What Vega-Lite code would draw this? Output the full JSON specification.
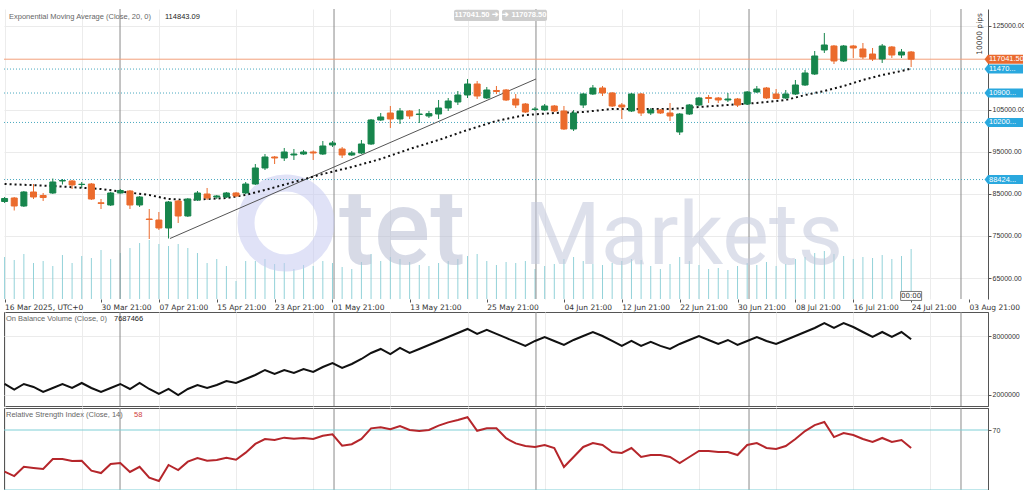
{
"$schema":"https://vega.github.io/schema/vega-lite/v6.json",
"padding":{"left":0,"top":8,"right":0,"bottom":0},
"background":"white",
"spacing":0,
"config":{"axis":{"labelOverlap":false},"scale":{"continuousPadding":0}},
"datasets":{
"bars":[
{"i":0,"o":83204,"h":84274,"l":82847,"c":83917,"v":42000,"obv":3108000,"rsi":42.2},
{"i":1,"o":84036,"h":84274,"l":81064,"c":82134,"v":39000,"obv":2523000,"rsi":39.3},
{"i":2,"o":82134,"h":85701,"l":81896,"c":85463,"v":45000,"obv":3108000,"rsi":45.5},
{"i":3,"o":85463,"h":87365,"l":83798,"c":84274,"v":36000,"obv":2800000,"rsi":44.7},
{"i":4,"o":84631,"h":85225,"l":83323,"c":84150,"v":38000,"obv":2287000,"rsi":44.0},
{"i":5,"o":85225,"h":88673,"l":84987,"c":87841,"v":33000,"obv":2697000,"rsi":50.7},
{"i":6,"o":88079,"h":88554,"l":87246,"c":88198,"v":44000,"obv":3108000,"rsi":50.7},
{"i":7,"o":88079,"h":88317,"l":86176,"c":87128,"v":36000,"obv":2697000,"rsi":49.3},
{"i":8,"o":87250,"h":87841,"l":86414,"c":87300,"v":43000,"obv":3210000,"rsi":49.5},
{"i":9,"o":87365,"h":87603,"l":83561,"c":83798,"v":41000,"obv":2697000,"rsi":42.9},
{"i":10,"o":82900,"h":83798,"l":81420,"c":82750,"v":49000,"obv":2287000,"rsi":41.3},
{"i":11,"o":82372,"h":85463,"l":82134,"c":85225,"v":40000,"obv":2697000,"rsi":47.3},
{"i":12,"o":85225,"h":86176,"l":85106,"c":85820,"v":46000,"obv":3108000,"rsi":48.0},
{"i":13,"o":85701,"h":85939,"l":81420,"c":82372,"v":51000,"obv":2595000,"rsi":42.0},
{"i":14,"o":82372,"h":84512,"l":81896,"c":84274,"v":56000,"obv":3210000,"rsi":45.5},
{"i":15,"o":79042,"h":81420,"l":74286,"c":78923,"v":59000,"obv":2595000,"rsi":38.2},
{"i":16,"o":78805,"h":80707,"l":76427,"c":76902,"v":55000,"obv":2082000,"rsi":36.0},
{"i":17,"o":76902,"h":83323,"l":74405,"c":83085,"v":53000,"obv":2595000,"rsi":46.7},
{"i":18,"o":83323,"h":83561,"l":78091,"c":79756,"v":55000,"obv":1980000,"rsi":43.3},
{"i":19,"o":79756,"h":84036,"l":79518,"c":83798,"v":51000,"obv":2595000,"rsi":48.9},
{"i":20,"o":83561,"h":85701,"l":83323,"c":85225,"v":46000,"obv":3005000,"rsi":51.3},
{"i":21,"o":84987,"h":86414,"l":83561,"c":84036,"v":36000,"obv":2697000,"rsi":49.5},
{"i":22,"o":84274,"h":84750,"l":83798,"c":84512,"v":40000,"obv":3005000,"rsi":50.0},
{"i":23,"o":84274,"h":85463,"l":84036,"c":85225,"v":33000,"obv":3415000,"rsi":51.5},
{"i":24,"o":85225,"h":85463,"l":84274,"c":84512,"v":18000,"obv":3210000,"rsi":50.2},
{"i":25,"o":85225,"h":87841,"l":84987,"c":87365,"v":38000,"obv":3621000,"rsi":54.9},
{"i":26,"o":87365,"h":92121,"l":87128,"c":91170,"v":38000,"obv":4031000,"rsi":60.7},
{"i":27,"o":91170,"h":94499,"l":90694,"c":93786,"v":40000,"obv":4544000,"rsi":64.0},
{"i":28,"o":93786,"h":94024,"l":92121,"c":93548,"v":35000,"obv":4133000,"rsi":63.3},
{"i":29,"o":93548,"h":95927,"l":92835,"c":94975,"v":36000,"obv":4544000,"rsi":64.9},
{"i":30,"o":94262,"h":95689,"l":93073,"c":94499,"v":30000,"obv":4236000,"rsi":64.2},
{"i":31,"o":94499,"h":95451,"l":94262,"c":94975,"v":34000,"obv":4646000,"rsi":64.7},
{"i":32,"o":94975,"h":95332,"l":93073,"c":94737,"v":33000,"obv":4340000,"rsi":64.0},
{"i":33,"o":94499,"h":97591,"l":94262,"c":96402,"v":38000,"obv":4850000,"rsi":66.2},
{"i":34,"o":96640,"h":97591,"l":96164,"c":97115,"v":36000,"obv":5260000,"rsi":67.1},
{"i":35,"o":95689,"h":96164,"l":93548,"c":94262,"v":32000,"obv":4750000,"rsi":59.5},
{"i":36,"o":94262,"h":95213,"l":94024,"c":94737,"v":30000,"obv":5160000,"rsi":60.5},
{"i":37,"o":94737,"h":97829,"l":94499,"c":96878,"v":37000,"obv":5670000,"rsi":64.0},
{"i":38,"o":96878,"h":102823,"l":96640,"c":102585,"v":45000,"obv":6290000,"rsi":71.1},
{"i":39,"o":102585,"h":104249,"l":102347,"c":103298,"v":38000,"obv":6700000,"rsi":71.8},
{"i":40,"o":104249,"h":105914,"l":100682,"c":102823,"v":42000,"obv":6180000,"rsi":70.5},
{"i":41,"o":102823,"h":105438,"l":101635,"c":104725,"v":40000,"obv":6800000,"rsi":72.7},
{"i":42,"o":104725,"h":104963,"l":102823,"c":103536,"v":37000,"obv":6290000,"rsi":70.0},
{"i":43,"o":103892,"h":105200,"l":101871,"c":104011,"v":34000,"obv":6700000,"rsi":69.3},
{"i":44,"o":103536,"h":104725,"l":103060,"c":104100,"v":33000,"obv":7110000,"rsi":70.0},
{"i":45,"o":104011,"h":107341,"l":102823,"c":105438,"v":36000,"obv":7520000,"rsi":72.9},
{"i":46,"o":105438,"h":107817,"l":104725,"c":107103,"v":38000,"obv":7930000,"rsi":75.1},
{"i":47,"o":106865,"h":109481,"l":106152,"c":108530,"v":40000,"obv":8340000,"rsi":76.7},
{"i":48,"o":108530,"h":112335,"l":107817,"c":111147,"v":43000,"obv":8750000,"rsi":78.5},
{"i":49,"o":111147,"h":111859,"l":107579,"c":108292,"v":45000,"obv":8240000,"rsi":69.5},
{"i":50,"o":107817,"h":110433,"l":107579,"c":109719,"v":38000,"obv":8650000,"rsi":71.1},
{"i":51,"o":109600,"h":110670,"l":108767,"c":109362,"v":34000,"obv":8240000,"rsi":71.1},
{"i":52,"o":109719,"h":109956,"l":107103,"c":107341,"v":37000,"obv":7830000,"rsi":64.5},
{"i":53,"o":107579,"h":108767,"l":105438,"c":106152,"v":36000,"obv":7420000,"rsi":61.1},
{"i":54,"o":106389,"h":106627,"l":104249,"c":104487,"v":38000,"obv":7010000,"rsi":59.3},
{"i":55,"o":105082,"h":105676,"l":104725,"c":105200,"v":30000,"obv":7520000,"rsi":58.7},
{"i":56,"o":104963,"h":106389,"l":104725,"c":105914,"v":33000,"obv":7930000,"rsi":60.0},
{"i":57,"o":105914,"h":106152,"l":104487,"c":104725,"v":35000,"obv":7520000,"rsi":58.0},
{"i":58,"o":104725,"h":105914,"l":100207,"c":100445,"v":40000,"obv":7110000,"rsi":45.3},
{"i":59,"o":100445,"h":104963,"l":99969,"c":104249,"v":42000,"obv":7620000,"rsi":52.0},
{"i":60,"o":106152,"h":109005,"l":105438,"c":108767,"v":38000,"obv":8030000,"rsi":58.7},
{"i":61,"o":108767,"h":110908,"l":108530,"c":110194,"v":35000,"obv":8440000,"rsi":61.3},
{"i":62,"o":110194,"h":110670,"l":108292,"c":109005,"v":34000,"obv":8030000,"rsi":60.0},
{"i":63,"o":109005,"h":109243,"l":105676,"c":105914,"v":36000,"obv":7520000,"rsi":55.3},
{"i":64,"o":106152,"h":106627,"l":102823,"c":105676,"v":38000,"obv":7010000,"rsi":54.7},
{"i":65,"o":104725,"h":109005,"l":104487,"c":108767,"v":40000,"obv":7520000,"rsi":58.0},
{"i":66,"o":108767,"h":109005,"l":103536,"c":104249,"v":39000,"obv":7010000,"rsi":52.0},
{"i":67,"o":104249,"h":105438,"l":103774,"c":104963,"v":33000,"obv":7420000,"rsi":53.3},
{"i":68,"o":104963,"h":105200,"l":104011,"c":104249,"v":30000,"obv":7010000,"rsi":53.3},
{"i":69,"o":104249,"h":106627,"l":102347,"c":103536,"v":35000,"obv":6700000,"rsi":52.0},
{"i":70,"o":99731,"h":104249,"l":99018,"c":104011,"v":42000,"obv":7210000,"rsi":48.0},
{"i":71,"o":104011,"h":106389,"l":103774,"c":106152,"v":38000,"obv":7620000,"rsi":52.0},
{"i":72,"o":106152,"h":108054,"l":105914,"c":107817,"v":34000,"obv":8030000,"rsi":56.0},
{"i":73,"o":107936,"h":108530,"l":106627,"c":107698,"v":30000,"obv":7620000,"rsi":56.0},
{"i":74,"o":107817,"h":108054,"l":106627,"c":107341,"v":31000,"obv":7210000,"rsi":55.3},
{"i":75,"o":107341,"h":109005,"l":106865,"c":107579,"v":29000,"obv":7620000,"rsi":55.3},
{"i":76,"o":107579,"h":107817,"l":105676,"c":106152,"v":33000,"obv":7110000,"rsi":53.3},
{"i":77,"o":106389,"h":109481,"l":106152,"c":109243,"v":36000,"obv":7520000,"rsi":60.0},
{"i":78,"o":109243,"h":110670,"l":109005,"c":109956,"v":34000,"obv":7930000,"rsi":61.3},
{"i":79,"o":110194,"h":110433,"l":107579,"c":107817,"v":37000,"obv":7520000,"rsi":58.0},
{"i":80,"o":108767,"h":109956,"l":107579,"c":107700,"v":33000,"obv":7210000,"rsi":57.3},
{"i":81,"o":107817,"h":109719,"l":107579,"c":108767,"v":35000,"obv":7620000,"rsi":59.3},
{"i":82,"o":108767,"h":112097,"l":108530,"c":110908,"v":40000,"obv":8030000,"rsi":64.0},
{"i":83,"o":110908,"h":114474,"l":110670,"c":113761,"v":42000,"obv":8440000,"rsi":69.3},
{"i":84,"o":113523,"h":118993,"l":113285,"c":117804,"v":46000,"obv":8850000,"rsi":73.3},
{"i":85,"o":119231,"h":123274,"l":118517,"c":120420,"v":48000,"obv":9360000,"rsi":75.3},
{"i":86,"o":120182,"h":120420,"l":115901,"c":116615,"v":45000,"obv":8850000,"rsi":65.3},
{"i":87,"o":116615,"h":120420,"l":116377,"c":120182,"v":43000,"obv":9360000,"rsi":68.0},
{"i":88,"o":120182,"h":120420,"l":117328,"c":119706,"v":40000,"obv":8950000,"rsi":66.7},
{"i":89,"o":119469,"h":120895,"l":117090,"c":117566,"v":42000,"obv":8440000,"rsi":64.0},
{"i":90,"o":118279,"h":119706,"l":116615,"c":117090,"v":41000,"obv":7930000,"rsi":62.0},
{"i":91,"o":117090,"h":120658,"l":116139,"c":120182,"v":44000,"obv":8440000,"rsi":64.7},
{"i":92,"o":119944,"h":120182,"l":117328,"c":118041,"v":40000,"obv":7930000,"rsi":62.0},
{"i":93,"o":118041,"h":119469,"l":117328,"c":118755,"v":43000,"obv":8440000,"rsi":63.3},
{"i":94,"o":118755,"h":118993,"l":115188,"c":117041.5,"v":50000,"obv":7687466,"rsi":58.0}
],
"ema":[
{"i":0,"p":87365},{"i":5,"p":86889},{"i":10,"p":86176},{"i":15,"p":84750},{"i":17,"p":83798},{"i":19,"p":83561},{"i":21,"p":83798},{"i":23,"p":84036},{"i":25,"p":84750},{"i":27,"p":85939},{"i":30,"p":87841},{"i":33,"p":89744},{"i":36,"p":91408},{"i":39,"p":93311},{"i":42,"p":95689},{"i":45,"p":97829},{"i":48,"p":100207},{"i":51,"p":102347},{"i":54,"p":103774},{"i":57,"p":104249},{"i":60,"p":104487},{"i":63,"p":105200},{"i":66,"p":105200},{"i":69,"p":105200},{"i":72,"p":105676},{"i":75,"p":106152},{"i":78,"p":106627},{"i":81,"p":107341},{"i":83,"p":108530},{"i":85,"p":109481},{"i":87,"p":110670},{"i":89,"p":112097},{"i":91,"p":113285},{"i":93,"p":114237},{"i":94,"p":114843.09}
],
"trend":[{"i":17.15,"p":74405},{"i":55.1,"p":112335}],
"seps":[{"i":11.97},{"i":34.16},{"i":55.1},{"i":77.19},{"i":99.17}],
"levels":[
{"p":117041.5,"lab":"117041.50","k":"cur"},
{"p":114700,"lab":"11470...","k":"lvl"},
{"p":109000,"lab":"10900...","k":"lvl"},
{"p":102000,"lab":"10200...","k":"lvl"},
{"p":88424,"lab":"88424...","k":"lvl"}
],
"rsilv":[{"r":70},{"r":30}]
},
"vconcat":[
{
"width":984,"height":290,
"view":{"stroke":null},
"layer":[
 {"data":{"name":"bars"},"mark":{"type":"rule","color":"#93d2d9","strokeWidth":1},
  "encoding":{
   "x":{"field":"i","type":"quantitative","scale":{"domain":[-0.06,101.97],"nice":false,"zero":false,"padding":0},
    "axis":{"orient":"bottom","title":null,"values":[0,10,16,22,28,34,42,50,58,64,70,76,82,88,94,100],
    "labelExpr":"['16 Mar 2025, UTC+0','30 Mar 21:00','07 Apr 21:00','15 Apr 21:00','23 Apr 21:00','01 May 21:00','13 May 21:00','25 May 21:00','04 Jun 21:00','12 Jun 21:00','22 Jun 21:00','30 Jun 21:00','08 Jul 21:00','16 Jul 21:00','24 Jul 21:00','03 Aug 21:00'][indexof([0,10,16,22,28,34,42,50,58,64,70,76,82,88,94,100], datum.value)]",
    "labelAlign":"left","labelFont":"DejaVu Sans","labelFontSize":7.5,"labelColor":"#333","labelPadding":1,"labelOverlap":false,"labelBound":false,"labelFlush":false,
    "tickSize":3,"tickColor":"#555","domain":false,"grid":false}},
   "y":{"field":"v","type":"quantitative","scale":{"domain":[0,290000],"nice":false,"zero":false},"axis":null},"y2":{"datum":0}}},
 {"layer":[
  {"data":{"name":"seps"},"mark":{"type":"rule","color":"#8a8a8a","strokeWidth":1},
   "encoding":{"x":{"field":"i","type":"quantitative","scale":{"domain":[-0.06,101.97],"nice":false,"zero":false,"padding":0},
    "axis":{"title":null,"labels":false,"ticks":false,"domain":false,"grid":true,"gridColor":"#ececec","values":[0,2,4,6,8,10,12,14,16,18,20,22,24,26,28,30,32,34,36,38,40,42,44,46,48,50,52,54,56,58,60,62,64,66,68,70,72,74,76,78,80,82,84,86,88,90,92,94,96,98,100]}}}},
  {"data":{"values":[{}]},"mark":{"type":"point","shape":"circle","filled":false,"strokeWidth":17,"color":"#c7cbf2","opacity":0.55,"size":6400},
   "encoding":{"x":{"datum":29.18,"type":"quantitative","scale":{"domain":[-0.06,101.97],"nice":false,"zero":false,"padding":0}},"y":{"datum":78091,"type":"quantitative","scale":{"domain":[60018,128980],"nice":false,"zero":false}}}},
  {"data":{"values":[{}]},"mark":{"type":"text","text":"tet","font":"Roboto","fontSize":105,"fontWeight":500,"color":"#b7bdd3","opacity":0.55,"align":"left","baseline":"alphabetic"},
   "encoding":{"x":{"datum":34.68,"type":"quantitative","scale":{"domain":[-0.06,101.97],"nice":false,"zero":false,"padding":0}},"y":{"datum":68341,"type":"quantitative","scale":{"domain":[60018,128980],"nice":false,"zero":false}}}},
  {"data":{"values":[{}]},"mark":{"type":"text","text":"Markets","font":"Roboto","fontSize":88,"fontWeight":400,"color":"#c3c8dc","opacity":0.55,"align":"left","baseline":"alphabetic"},
   "encoding":{"x":{"datum":53.86,"type":"quantitative","scale":{"domain":[-0.06,101.97],"nice":false,"zero":false,"padding":0}},"y":{"datum":68341,"type":"quantitative","scale":{"domain":[60018,128980],"nice":false,"zero":false}}}},
  {"data":{"name":"levels"},"transform":[{"filter":"datum.k == 'lvl'"}],"mark":{"type":"rule","color":"#4aa9bf","strokeWidth":1,"strokeDash":[1,2]},
   "encoding":{"x":{"datum":-0.06,"type":"quantitative","scale":{"domain":[-0.06,101.97],"nice":false,"zero":false,"padding":0}},"x2":{"datum":101.97},"y":{"field":"p","type":"quantitative","scale":{"domain":[60018,128980],"nice":false,"zero":false},"title":null}}},
  {"data":{"name":"levels"},"transform":[{"filter":"datum.k == 'cur'"}],"mark":{"type":"rule","color":"#f3a17c","strokeWidth":1},
   "encoding":{"x":{"datum":-0.06,"type":"quantitative","scale":{"domain":[-0.06,101.97],"nice":false,"zero":false,"padding":0}},"x2":{"datum":101.97},"y":{"field":"p","type":"quantitative","scale":{"domain":[60018,128980],"nice":false,"zero":false},"title":null}}},
  {"data":{"name":"trend"},"mark":{"type":"line","color":"#555","strokeWidth":1},
   "encoding":{"x":{"field":"i","type":"quantitative","scale":{"domain":[-0.06,101.97],"nice":false,"zero":false,"padding":0}},"y":{"field":"p","type":"quantitative","scale":{"domain":[60018,128980],"nice":false,"zero":false},"title":null}}},
  {"data":{"name":"ema"},"mark":{"type":"line","color":"#111","strokeWidth":2,"strokeDash":[2,3]},
   "encoding":{"x":{"field":"i","type":"quantitative","scale":{"domain":[-0.06,101.97],"nice":false,"zero":false,"padding":0}},"y":{"field":"p","type":"quantitative","scale":{"domain":[60018,128980],"nice":false,"zero":false},"title":null}}},
  {"data":{"name":"bars"},"mark":{"type":"rule","strokeWidth":1},
   "encoding":{"x":{"field":"i","type":"quantitative","scale":{"domain":[-0.06,101.97],"nice":false,"zero":false,"padding":0}},
    "y":{"field":"l","type":"quantitative","scale":{"domain":[60018,128980],"nice":false,"zero":false},
     "axis":{"orient":"right","title":null,"values":[65000,70000,75000,80000,85000,90000,95000,100000,105000,120000,125000],"format":".2f","labelFont":"Liberation Sans","labelFontSize":7,"labelColor":"#333","labelPadding":1,"labelOverlap":false,"tickSize":3,"tickColor":"#555","domainColor":"#555","grid":true,"gridColor":"#ebebeb"}},
    "y2":{"field":"h"},
    "color":{"condition":{"test":"datum.c >= datum.o","value":"#17854c"},"value":"#eb6b2d"}}},
  {"data":{"name":"bars"},"mark":{"type":"bar","width":6,"strokeWidth":1},
   "encoding":{"x":{"field":"i","type":"quantitative","scale":{"domain":[-0.06,101.97],"nice":false,"zero":false,"padding":0}},
    "y":{"field":"o","type":"quantitative","scale":{"domain":[60018,128980],"nice":false,"zero":false},"title":null},"y2":{"field":"c"},
    "color":{"condition":{"test":"datum.c >= datum.o","value":"#17854c"},"value":"#eb6b2d"},
    "stroke":{"condition":{"test":"datum.c >= datum.o","value":"#17854c"},"value":"#eb6b2d"}}},
  {"data":{"name":"levels"},"mark":{"type":"point","filled":true,"size":100,"opacity":1,"shape":"M-0.7,0L0,-0.9L7,-0.9L7,0.9L0,0.9Z","strokeWidth":0},
   "encoding":{"x":{"datum":101.97,"type":"quantitative","scale":{"domain":[-0.06,101.97],"nice":false,"zero":false,"padding":0}},"y":{"field":"p","type":"quantitative","scale":{"domain":[60018,128980],"nice":false,"zero":false},"title":null},
    "color":{"condition":{"test":"datum.k == 'cur'","value":"#ea6a2f"},"value":"#2aa8de"}}},
  {"data":{"name":"levels"},"mark":{"type":"text","align":"left","baseline":"middle","dx":1,"font":"Liberation Sans","fontSize":7.5,"color":"white"},
   "encoding":{"x":{"datum":101.97,"type":"quantitative","scale":{"domain":[-0.06,101.97],"nice":false,"zero":false,"padding":0}},"y":{"field":"p","type":"quantitative","scale":{"domain":[60018,128980],"nice":false,"zero":false},"title":null},"text":{"field":"lab"}}},
  {"data":{"values":[{}]},"mark":{"type":"rect","color":"#cdcdcd","cornerRadius":2},
   "encoding":{"x":{"datum":46.6,"type":"quantitative","scale":{"domain":[-0.06,101.97],"nice":false,"zero":false,"padding":0}},"x2":{"datum":51.27},"y":{"datum":128800,"type":"quantitative","scale":{"domain":[60018,128980],"nice":false,"zero":false}},"y2":{"datum":126127}}},
  {"data":{"values":[{}]},"mark":{"type":"rect","color":"#cdcdcd","cornerRadius":2},
   "encoding":{"x":{"datum":51.58,"type":"quantitative","scale":{"domain":[-0.06,101.97],"nice":false,"zero":false,"padding":0}},"x2":{"datum":56.25},"y":{"datum":128800,"type":"quantitative","scale":{"domain":[60018,128980],"nice":false,"zero":false}},"y2":{"datum":126127}}},
  {"data":{"values":[{}]},"mark":{"type":"text","text":"117041.50 ➔","align":"center","baseline":"middle","font":"Liberation Sans","fontSize":7.5,"fontWeight":"bold","color":"white"},
   "encoding":{"x":{"datum":48.94,"type":"quantitative","scale":{"domain":[-0.06,101.97],"nice":false,"zero":false,"padding":0}},"y":{"datum":127460,"type":"quantitative","scale":{"domain":[60018,128980],"nice":false,"zero":false}}}},
  {"data":{"values":[{}]},"mark":{"type":"text","text":"➔ 117078.50","align":"center","baseline":"middle","font":"Liberation Sans","fontSize":7.5,"fontWeight":"bold","color":"white"},
   "encoding":{"x":{"datum":53.9,"type":"quantitative","scale":{"domain":[-0.06,101.97],"nice":false,"zero":false,"padding":0}},"y":{"datum":127460,"type":"quantitative","scale":{"domain":[60018,128980],"nice":false,"zero":false}}}},
  {"data":{"values":[{}]},"mark":{"type":"text","text":"Exponential Moving Average (Close, 20, 0)","align":"left","baseline":"middle","dx":5,"font":"Liberation Sans","fontSize":7.5,"color":"#666"},
   "encoding":{"x":{"datum":-0.06,"type":"quantitative","scale":{"domain":[-0.06,101.97],"nice":false,"zero":false,"padding":0}},"y":{"datum":127078,"type":"quantitative","scale":{"domain":[60018,128980],"nice":false,"zero":false}}}},
  {"data":{"values":[{}]},"mark":{"type":"text","text":"114843.09","align":"left","baseline":"middle","dx":161,"font":"Liberation Sans","fontSize":7.5,"color":"#222"},
   "encoding":{"x":{"datum":-0.06,"type":"quantitative","scale":{"domain":[-0.06,101.97],"nice":false,"zero":false,"padding":0}},"y":{"datum":127078,"type":"quantitative","scale":{"domain":[60018,128980],"nice":false,"zero":false}}}},
  {"data":{"values":[{}]},"mark":{"type":"text","text":"10000 pips","align":"center","baseline":"middle","angle":270,"font":"DejaVu Sans","fontSize":7.5,"color":"#333"},
   "encoding":{"x":{"datum":101.1,"type":"quantitative","scale":{"domain":[-0.06,101.97],"nice":false,"zero":false,"padding":0}},"y":{"datum":123036,"type":"quantitative","scale":{"domain":[60018,128980],"nice":false,"zero":false}}}},
  {"data":{"values":[{}]},"mark":{"type":"point","filled":true,"size":100,"shape":"M-2.1,-0.9L2.1,-0.9L2.1,0.9L-2.1,0.9Z","fill":"white","stroke":"#777","strokeWidth":1,"opacity":1},
   "encoding":{"x":{"datum":94,"type":"quantitative","scale":{"domain":[-0.06,101.97],"nice":false,"zero":false,"padding":0}},"y":{"datum":60740,"type":"quantitative","scale":{"domain":[60018,128980],"nice":false,"zero":false}}}},
  {"data":{"values":[{}]},"mark":{"type":"text","text":"00:00","align":"center","baseline":"middle","font":"DejaVu Sans","fontSize":7,"color":"#333"},
   "encoding":{"x":{"datum":94,"type":"quantitative","scale":{"domain":[-0.06,101.97],"nice":false,"zero":false,"padding":0}},"y":{"datum":60740,"type":"quantitative","scale":{"domain":[60018,128980],"nice":false,"zero":false}}}}
 ]}
],
"resolve":{"scale":{"y":"independent"},"axis":{"y":"independent","x":"independent"}}
},
{
"width":984,"height":94,
"view":{"stroke":"#555"},
"layer":[
 {"data":{"name":"seps"},"mark":{"type":"rule","color":"#8a8a8a","strokeWidth":1},
  "encoding":{"x":{"field":"i","type":"quantitative","scale":{"domain":[-0.06,101.97],"nice":false,"zero":false,"padding":0},
   "axis":{"title":null,"labels":false,"ticks":false,"domain":false,"grid":true,"gridColor":"#ececec","values":[0,2,4,6,8,10,12,14,16,18,20,22,24,26,28,30,32,34,36,38,40,42,44,46,48,50,52,54,56,58,60,62,64,66,68,70,72,74,76,78,80,82,84,86,88,90,92,94,96,98,100]}}}},
 {"data":{"name":"bars"},"mark":{"type":"line","color":"#111","strokeWidth":2},
  "encoding":{"x":{"field":"i","type":"quantitative","scale":{"domain":[-0.06,101.97],"nice":false,"zero":false,"padding":0}},
   "y":{"field":"obv","type":"quantitative","scale":{"domain":[850000,10490000],"nice":false,"zero":false},
   "axis":{"orient":"right","title":null,"values":[2000000,4000000,6000000,8000000],"format":"d","labelFont":"Liberation Sans","labelFontSize":7,"labelColor":"#333","labelPadding":1,"labelOverlap":false,"tickSize":3,"tickColor":"#555","domainColor":"#555","grid":true,"gridColor":"#ebebeb"}}}},
 {"data":{"values":[{}]},"mark":{"type":"text","text":"On Balance Volume (Close, 0)","align":"left","baseline":"middle","dx":2,"font":"Liberation Sans","fontSize":7.5,"color":"#666"},
  "encoding":{"x":{"datum":-0.06,"type":"quantitative","scale":{"domain":[-0.06,101.97],"nice":false,"zero":false,"padding":0}},"y":{"datum":9774000,"type":"quantitative","scale":{"domain":[850000,10490000],"nice":false,"zero":false}}}},
 {"data":{"values":[{}]},"mark":{"type":"text","text":"7687466","align":"left","baseline":"middle","dx":110,"font":"Liberation Sans","fontSize":7.5,"color":"#222"},
  "encoding":{"x":{"datum":-0.06,"type":"quantitative","scale":{"domain":[-0.06,101.97],"nice":false,"zero":false,"padding":0}},"y":{"datum":9774000,"type":"quantitative","scale":{"domain":[850000,10490000],"nice":false,"zero":false}}}}
]
},
{
"width":984,"height":82,
"view":{"stroke":"#555"},
"layer":[
 {"data":{"name":"seps"},"mark":{"type":"rule","color":"#8a8a8a","strokeWidth":1},
  "encoding":{"x":{"field":"i","type":"quantitative","scale":{"domain":[-0.06,101.97],"nice":false,"zero":false,"padding":0},
   "axis":{"title":null,"labels":false,"ticks":false,"domain":false,"grid":true,"gridColor":"#ececec","values":[0,2,4,6,8,10,12,14,16,18,20,22,24,26,28,30,32,34,36,38,40,42,44,46,48,50,52,54,56,58,60,62,64,66,68,70,72,74,76,78,80,82,84,86,88,90,92,94,96,98,100]}}}},
 {"data":{"name":"rsilv"},"mark":{"type":"rule","color":"#7fcfd6","strokeWidth":1},
  "encoding":{"x":{"datum":-0.06,"type":"quantitative","scale":{"domain":[-0.06,101.97],"nice":false,"zero":false,"padding":0}},"x2":{"datum":101.97},"y":{"field":"r","type":"quantitative","scale":{"domain":[30,84.67],"nice":false,"zero":false},"title":null}}},
 {"data":{"name":"bars"},"mark":{"type":"line","color":"#b5262b","strokeWidth":2},
  "encoding":{"x":{"field":"i","type":"quantitative","scale":{"domain":[-0.06,101.97],"nice":false,"zero":false,"padding":0}},
   "y":{"field":"rsi","type":"quantitative","scale":{"domain":[30,84.67],"nice":false,"zero":false},
   "axis":{"orient":"right","title":null,"values":[70],"labelFont":"Liberation Sans","labelFontSize":7,"labelColor":"#333","labelPadding":1,"tickSize":3,"tickColor":"#555","domainColor":"#555","grid":false}}}},
 {"data":{"values":[{}]},"mark":{"type":"text","text":"Relative Strength Index (Close, 14)","align":"left","baseline":"middle","dx":2,"font":"Liberation Sans","fontSize":7.5,"color":"#666"},
  "encoding":{"x":{"datum":-0.06,"type":"quantitative","scale":{"domain":[-0.06,101.97],"nice":false,"zero":false,"padding":0}},"y":{"datum":80,"type":"quantitative","scale":{"domain":[30,84.67],"nice":false,"zero":false}}}},
 {"data":{"values":[{}]},"mark":{"type":"text","text":"58","align":"left","baseline":"middle","dx":130,"font":"Liberation Sans","fontSize":7.5,"color":"#d04040"},
  "encoding":{"x":{"datum":-0.06,"type":"quantitative","scale":{"domain":[-0.06,101.97],"nice":false,"zero":false,"padding":0}},"y":{"datum":80,"type":"quantitative","scale":{"domain":[30,84.67],"nice":false,"zero":false}}}}
]
}
]
}
